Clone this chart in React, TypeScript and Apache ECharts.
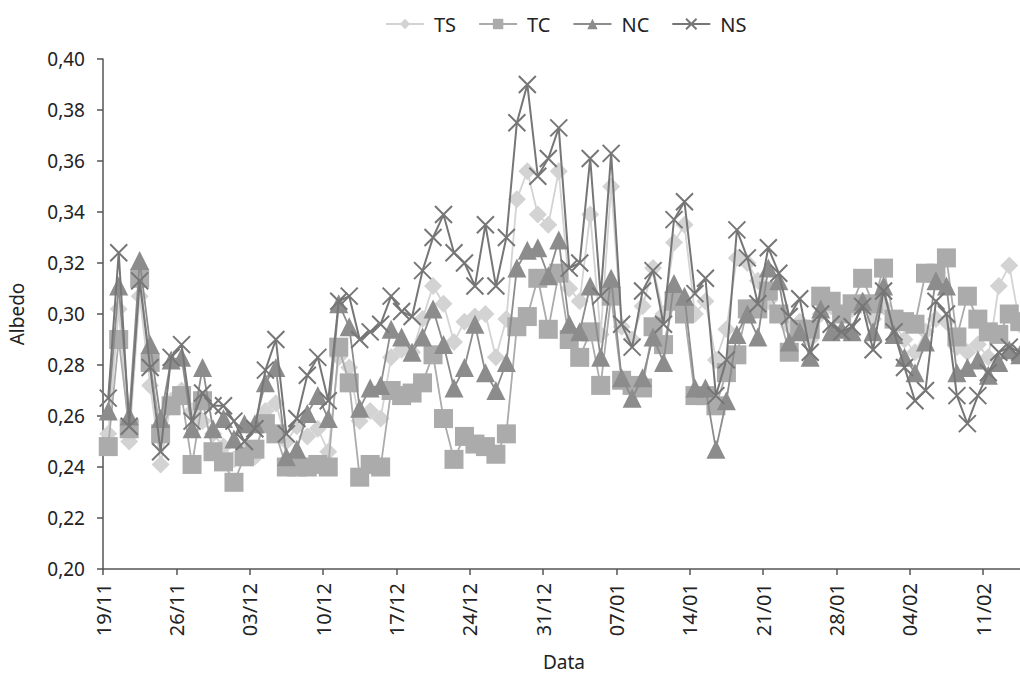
import React, { useEffect, useRef } from "react";
import * as echarts from "echarts";

const dateLabels: string[] = [
  "19/11","20/11","21/11","22/11","23/11","24/11","25/11","26/11","27/11","28/11","29/11","30/11",
  "01/12","02/12","03/12","04/12","05/12","06/12","07/12","08/12","09/12","10/12","11/12","12/12","13/12","14/12","15/12","16/12","17/12","18/12","19/12","20/12","21/12","22/12","23/12","24/12","25/12","26/12","27/12","28/12","29/12","30/12","31/12",
  "01/01","02/01","03/01","04/01","05/01","06/01","07/01","08/01","09/01","10/01","11/01","12/01","13/01","14/01","15/01","16/01","17/01","18/01","19/01","20/01","21/01","22/01","23/01","24/01","25/01","26/01","27/01","28/01","29/01","30/01","31/01",
  "01/02","02/02","03/02","04/02","05/02","06/02","07/02","08/02","09/02","10/02","11/02","12/02","13/02","14/02"
];

const TS: number[] = [
  0.253,0.302,0.250,0.307,0.272,0.241,0.266,0.270,0.262,0.258,0.253,0.248,0.243,0.246,0.244,0.262,0.265,0.250,0.256,0.252,
  0.255,0.246,0.283,0.279,0.258,0.262,0.259,0.283,0.286,0.285,0.298,0.311,0.304,0.289,0.297,0.299,0.300,0.283,0.298,0.345,
  0.356,0.339,0.335,0.356,0.310,0.305,0.339,0.292,0.350,0.295,0.290,0.303,0.318,0.300,0.328,0.335,0.300,0.305,0.282,0.294,
  0.322,0.320,0.313,0.305,0.300,0.295,0.297,0.290,0.300,0.303,0.299,0.302,0.305,0.298,0.303,0.296,0.290,0.285,0.293,0.298,
  0.297,0.287,0.285,0.288,0.283,0.311,0.319,0.296
];

const TC: number[] = [
  0.248,0.290,0.255,0.314,0.281,0.253,0.264,0.268,0.241,0.266,0.246,0.242,0.234,0.244,0.247,0.257,0.253,0.240,0.240,0.240,
  0.241,0.240,0.287,0.273,0.236,0.241,0.240,0.270,0.268,0.269,0.273,0.284,0.259,0.243,0.252,0.249,0.248,0.245,0.253,0.295,
  0.299,0.314,0.294,0.316,0.290,0.283,0.293,0.272,0.307,0.274,0.272,0.271,0.295,0.288,0.305,0.300,0.268,0.268,0.264,0.277,
  0.284,0.302,0.302,0.309,0.300,0.285,0.294,0.294,0.307,0.305,0.300,0.304,0.314,0.304,0.318,0.298,0.297,0.296,0.316,0.316,
  0.322,0.291,0.307,0.298,0.293,0.292,0.300,0.297
];

const NC: number[] = [
  0.262,0.311,0.260,0.321,0.288,0.259,0.282,0.283,0.255,0.279,0.255,0.259,0.251,0.257,0.257,0.273,0.279,0.244,0.247,0.261,
  0.268,0.259,0.304,0.295,0.263,0.271,0.272,0.294,0.291,0.285,0.291,0.302,0.288,0.271,0.279,0.296,0.277,0.270,0.281,0.318,
  0.325,0.326,0.315,0.329,0.296,0.293,0.311,0.283,0.314,0.275,0.267,0.275,0.291,0.281,0.312,0.307,0.271,0.271,0.247,0.266,
  0.292,0.300,0.291,0.318,0.313,0.289,0.293,0.283,0.302,0.293,0.294,0.293,0.305,0.293,0.311,0.292,0.283,0.277,0.289,0.313,
  0.311,0.277,0.279,0.282,0.276,0.281,0.286,0.284
];

const NS: number[] = [
  0.267,0.324,0.256,0.313,0.279,0.246,0.283,0.288,0.258,0.269,0.264,0.264,0.258,0.250,0.255,0.278,0.290,0.253,0.259,0.276,
  0.283,0.266,0.305,0.307,0.290,0.293,0.296,0.307,0.301,0.299,0.317,0.330,0.339,0.324,0.320,0.311,0.335,0.311,0.330,0.375,
  0.390,0.354,0.361,0.373,0.318,0.320,0.361,0.307,0.363,0.296,0.287,0.309,0.317,0.296,0.337,0.344,0.308,0.314,0.268,0.282,
  0.333,0.322,0.304,0.326,0.316,0.299,0.306,0.285,0.300,0.296,0.293,0.295,0.303,0.286,0.309,0.293,0.279,0.266,0.270,0.305,
  0.300,0.268,0.257,0.268,0.277,0.285,0.287,0.285
];

const seriesNames = ["TS", "TC", "NC", "NS"];
const seriesColors = ["#d3d3d3", "#ababab", "#8c8c8c", "#767676"];

const FONT = "'Noto Sans', 'Open Sans', sans-serif";

function toPoints(vals: number[]): [number, number][] {
  return vals.map((v, i) => [i + 0.5, v]);
}

export default function App() {
  const ref = useRef<HTMLDivElement>(null);
  useEffect(() => {
    document.body.style.margin = "0";
    document.body.style.overflow = "hidden";
    if (!ref.current) return;
    const chart = echarts.init(ref.current, undefined, { renderer: "svg" });
    const crossPath = "path://M0,0L10,10M10,0L0,10";
    const seriesData = [TS, TC, NC, NS];
    const symbols = ["diamond", "rect", "triangle", crossPath];
    const sizes = [18, 19, 19, 17];
    chart.setOption({
      animation: false,
      backgroundColor: "#ffffff",
      textStyle: { fontFamily: FONT },
      legend: {
        top: 9,
        left: 380,
        itemWidth: 38,
        itemHeight: 13,
        itemGap: 22,
        textStyle: { fontSize: 20, color: "#222", fontFamily: FONT, padding: [0, 0, 0, 5] },
        data: seriesNames,
      },
      grid: {
        left: 103,
        top: 59,
        width: 922,
        height: 510,
        containLabel: false,
        outerBoundsMode: "none",
      },
      xAxis: {
        type: "value",
        min: 0,
        max: dateLabels.length,
        interval: 7,
        name: "Data",
        nameLocation: "middle",
        nameGap: 83,
        nameTextStyle: { fontSize: 19, color: "#222", fontFamily: FONT },
        splitLine: { show: false },
        axisLine: { show: true, lineStyle: { color: "#555", width: 1.5 } },
        axisTick: { show: true, length: 6, lineStyle: { color: "#555", width: 1.5 } },
        axisLabel: {
          rotate: 90,
          fontSize: 20,
          color: "#222",
          margin: 14,
          showMaxLabel: false,
          formatter: (v: number) => (v % 7 === 0 && dateLabels[v] ? dateLabels[v] : ""),
        },
      },
      yAxis: {
        type: "value",
        min: 0.2,
        max: 0.4,
        interval: 0.02,
        name: "Albedo",
        nameLocation: "middle",
        nameGap: 77,
        nameTextStyle: { fontSize: 19, color: "#222", fontFamily: FONT },
        splitLine: { show: false },
        axisLine: { show: true, lineStyle: { color: "#555", width: 1.5 } },
        axisTick: { show: true, length: 6, lineStyle: { color: "#555", width: 1.5 } },
        axisLabel: {
          fontSize: 19,
          color: "#222",
          margin: 18,
          formatter: (v: number) => v.toFixed(2).replace(".", ","),
        },
      },
      series: seriesNames.map((name, k) => ({
        name,
        type: "line",
        data: toPoints(seriesData[k]),
        symbol: symbols[k],
        symbolSize: sizes[k],
        showAllSymbol: true,
        z: 2 + k,
        lineStyle: { color: seriesColors[k], width: k === 3 ? 2 : 1.8 },
        itemStyle:
          k === 3
            ? { color: "rgba(0,0,0,0)", borderColor: seriesColors[k], borderWidth: 2 }
            : { color: seriesColors[k], borderWidth: 0 },
      })),
    });
    return () => chart.dispose();
  }, []);
  return (
    <div style={{ position: "fixed", left: 0, top: 0, width: 1020, height: 673, overflow: "hidden", background: "#fff" }}>
      <div ref={ref} style={{ width: 1030, height: 673 }} />
    </div>
  );
}
